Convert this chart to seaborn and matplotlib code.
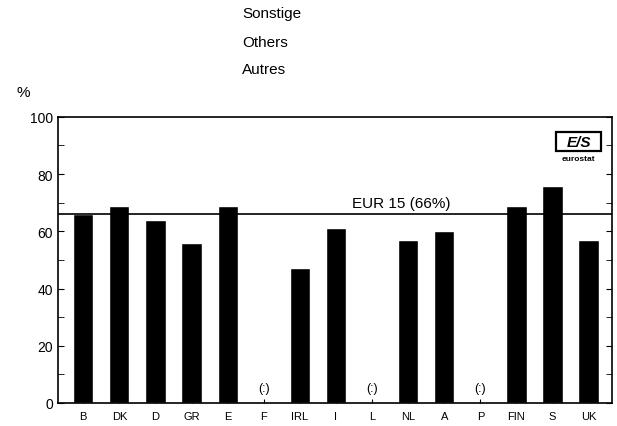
import numpy as np
import pandas as pd
import seaborn as sns
import matplotlib.pyplot as plt
from matplotlib.patches import Rectangle

countries = ["B", "DK", "D", "GR", "E", "F", "IRL", "I", "L", "NL", "A", "P", "FIN", "S", "UK"]
shares = [66, 69, 64, 56, 69, np.nan, 47, 61, np.nan, 57, 60, np.nan, 69, 76, 57]
eur15 = 66

sns.set_style("ticks")
plt.rcParams['font.family'] = ['Liberation Sans', 'DejaVu Sans']
plt.rcParams['text.color'] = 'black'
plt.rcParams['xtick.color'] = 'black'
plt.rcParams['ytick.color'] = 'black'

df = pd.DataFrame({"country": countries, "share": shares})

fig = plt.figure(figsize=(6.17, 4.27), dpi=100)
ax = fig.add_axes([0.094, 0.054, 0.898, 0.670])

sns.barplot(data=df, x="country", y="share", color="black", width=0.56,
            saturation=1, ax=ax, order=countries)

# missing values
for i, v in enumerate(shares):
    if np.isnan(v):
        ax.text(i, 3, "(:)", ha="center", va="bottom", fontsize=9)

ax.axhline(eur15, color="black", lw=1.2)
ax.text(8.8, eur15 + 1.5, "EUR 15 (66%)", ha="center", va="bottom", fontsize=11)

ax.set_ylim(0, 100)
ax.set_xlim(-0.7, len(countries) - 0.35)
ax.set_yticks(range(0, 101, 20))
ax.set_yticks(range(0, 101, 10), minor=True)
ax.tick_params(axis="y", direction="in", length=4, labelsize=10, right=True, which="both")
ax.tick_params(axis="x", direction="in", length=3, labelsize=8, pad=6)
ax.set_xlabel("")
ax.set_ylabel("")
for s in ax.spines.values():
    s.set_visible(True)
    s.set_linewidth(1.2)
    s.set_color("black")

# eurostat logo
ax.add_patch(Rectangle((13.1, 88.0), 1.25, 6.7, fill=False, lw=1.6, color="black", clip_on=False))
ax.text(13.72, 91.3, "E/S", ha="center", va="center", fontsize=11, fontweight="bold", style="italic")
ax.text(13.72, 85.5, "eurostat", ha="center", va="center", fontsize=6, fontweight="bold")

fig.text(0.392, 0.968, "Sonstige", fontsize=11, ha="left", va="center")
fig.text(0.392, 0.900, "Others", fontsize=11, ha="left", va="center")
fig.text(0.392, 0.836, "Autres", fontsize=11, ha="left", va="center")
fig.text(0.037, 0.782, "%", fontsize=11, ha="center", va="center")

fig.savefig("out.png", dpi=100)
